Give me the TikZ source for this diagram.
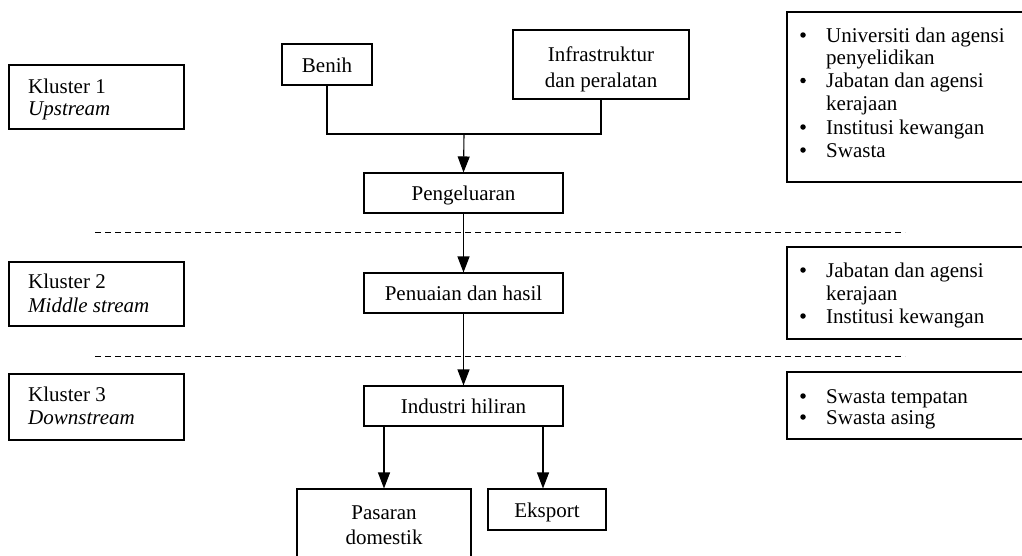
\documentclass[tikz,border=0pt]{standalone}
\usepackage{fontspec}
\setmainfont{Liberation Serif}
\usetikzlibrary{arrows.meta,calc}
\begin{document}
\begin{tikzpicture}[x=1pt,y=-1pt,
  every node/.style={font=\fontsize{21}{24}\selectfont},
  box/.style={draw,line width=1.1pt,inner sep=0pt,align=center,text height=18pt,text depth=3pt},
  arr/.style={line width=1.1pt,-{Triangle[length=16pt,width=12pt]}},
  ln/.style={line width=1.1pt},
  sep/.style={line width=0.9pt,dash pattern=on 6pt off 4pt},
  lbl/.style={anchor=base west,inner sep=0pt},
  ctr/.style={anchor=base,inner sep=0pt},
  bul/.style={circle,fill,inner sep=0pt,minimum size=5.5pt}]
\useasboundingbox (0,0) rectangle (1022,555);
% cluster boxes
\node[box,minimum width=175pt,minimum height=64pt] (k1) at (96.5,97) {};
\node[box,minimum width=175pt,minimum height=64pt] (k2) at (96.5,294) {};
\node[box,minimum width=175pt,minimum height=66pt] (k3) at (96.5,407) {};
\node[lbl] (k1a) at (28,93) {Kluster 1};
\node[lbl] (k1b) at (28,115) {\itshape Upstream};
\node[lbl] (k2a) at (28,288) {Kluster 2};
\node[lbl] (k2b) at (28,312) {\itshape Middle stream};
\node[lbl] (k3a) at (28,401) {Kluster 3};
\node[lbl] (k3b) at (28,424) {\itshape Downstream};
% flow boxes
\node[box,minimum width=90pt,minimum height=41pt] (benih) at (327,64.5) {Benih};
\node[box,minimum width=176pt,minimum height=69pt] (infra) at (601,64.5) {};
\node[ctr] (infra1) at (601,61) {Infrastruktur};
\node[ctr] (infra2) at (601,87) {dan peralatan};
\node[box,minimum width=199pt,minimum height=40pt] (peng) at (463.5,193) {Pengeluaran};
\node[box,minimum width=199pt,minimum height=40pt] (pen) at (463.5,293) {Penuaian dan hasil};
\node[box,minimum width=199pt,minimum height=40pt] (ind) at (463.5,406) {Industri hiliran};
\node[box,minimum width=174pt,minimum height=70pt] (pas) at (384,524) {};
\node[ctr] (pas1) at (384,519) {Pasaran};
\node[ctr] (pas2) at (384,544) {domestik};
\node[box,minimum width=118pt,minimum height=41pt] (eks) at (547,509.5) {Eksport};
% connectors
\coordinate (j) at (464,134);
\draw[ln] (benih.south) |- (j) -| (infra.south);
\draw[arr] (j) -- (peng.north);
\draw[arr] (peng.south) -- (pen.north);
\draw[arr] (pen.south) -- (ind.north);
\draw[arr] (pas.north |- ind.south) -- (pas.north);
\coordinate (ek) at ($(eks.north)+(-4,0)$);
\draw[arr] (ek |- ind.south) -- (ek);
% separators
\coordinate (s1a) at (95,232); \coordinate (s1b) at (905,232);
\coordinate (s2a) at (95,356); \coordinate (s2b) at (905,356);
\draw[sep] (s1a) -- (s1b);
\draw[sep] (s2a) -- (s2b);
% right boxes
\draw[ln] (1030,12) -- (787,12) -- (787,182) -- (1030,182);
\draw[ln] (1030,247) -- (787,247) -- (787,339) -- (1030,339);
\draw[ln] (1030,372) -- (787,372) -- (787,439) -- (1030,439);
\node[bul] (b1) at (803,35) {};
\node[lbl] (r1) at (826,42) {Universiti dan agensi};
\node[lbl] (r2) at (826,64.5) {penyelidikan};
\node[bul] (b2) at (803,80.5) {};
\node[lbl] (r3) at (826,87.5) {Jabatan dan agensi};
\node[lbl] (r4) at (826,110.5) {kerajaan};
\node[bul] (b3) at (803,127) {};
\node[lbl] (r5) at (826,134) {Institusi kewangan};
\node[bul] (b4) at (803,150) {};
\node[lbl] (r6) at (826,157) {Swasta};
\node[bul] (b5) at (803,270) {};
\node[lbl] (r7) at (826,277) {Jabatan dan agensi};
\node[lbl] (r8) at (826,300) {kerajaan};
\node[bul] (b6) at (803,316) {};
\node[lbl] (r9) at (826,323) {Institusi kewangan};
\node[bul] (b7) at (803,396) {};
\node[lbl] (r10) at (826,403) {Swasta tempatan};
\node[bul] (b8) at (803,417) {};
\node[lbl] (r11) at (826,424) {Swasta asing};
\end{tikzpicture}
\end{document}
